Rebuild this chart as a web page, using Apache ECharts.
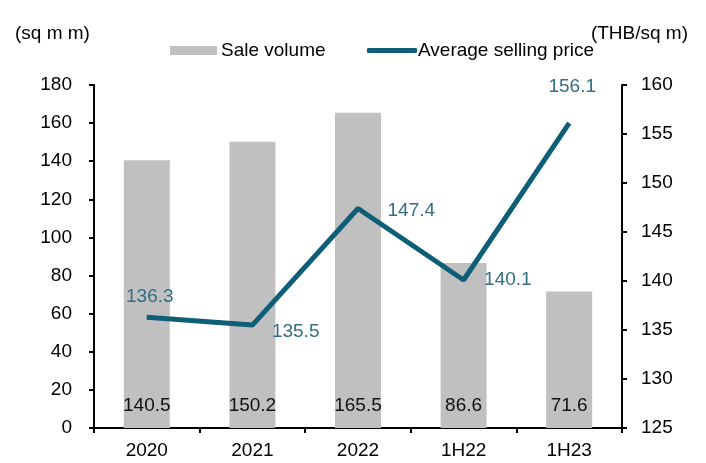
<!DOCTYPE html>
<html>
<head>
<meta charset="utf-8">
<script src="https://cdn.jsdelivr.net/npm/echarts@6/dist/echarts.min.js"></script>
<style>
  html, body { margin: 0; padding: 0; background: #fff; }
  #chart { width: 706px; height: 463px; }
</style>
</head>
<body>
<div id="chart"></div>
<script>
const categories = ['2020', '2021', '2022', '1H22', '1H23']
const saleVolume = [140.5, 150.2, 165.5, 86.6, 71.6]
const avgPrice = [136.3, 135.5, 147.4, 140.1, 156.1]

const FONT = '"Liberation Sans", Arial, sans-serif'
const FS = 19
const LINE_COLOR = '#0e5e78'
const LABEL_TEAL = '#336e82'

// label placement per point of the price line
const priceLabelPos = [
  { position: 'top', distance: 10, offset: [3, 0] },
  { position: 'right', distance: 19, offset: [0, 7] },
  { position: 'right', distance: 29, offset: [0, 2] },
  { position: 'right', distance: 20, offset: [0, 0] },
  { position: 'top', distance: 26, offset: [3, 0] }
]

const chart = echarts.init(document.getElementById('chart'))

const option = {
  backgroundColor: '#ffffff',
  textStyle: { fontFamily: FONT },
  animation: false,
  title: [
    {
      text: '(sq m m)',
      left: 10,
      top: 19,
      textStyle: { fontFamily: FONT, fontSize: FS, fontWeight: 'normal', color: '#000' }
    },
    {
      text: '(THB/sq m)',
      right: 13,
      top: 19,
      textStyle: { fontFamily: FONT, fontSize: FS, fontWeight: 'normal', color: '#000' }
    }
  ],
  legend: [
    {
      data: [{ name: 'Sale volume', icon: 'rect' }],
      left: 165,
      top: 36,
      itemWidth: 47,
      itemHeight: 9,
      itemGap: 0,
      textStyle: { fontFamily: FONT, fontSize: FS, color: '#000', padding: [0, 0, 0, -1] }
    },
    {
      data: [{ name: 'Average selling price', icon: 'roundRect' }],
      left: 362,
      top: 36,
      itemWidth: 50,
      itemHeight: 5,
      itemGap: 0,
      itemStyle: { color: LINE_COLOR },
      textStyle: { fontFamily: FONT, fontSize: FS, color: '#000', padding: [0, 0, 0, -4] }
    }
  ],
  grid: {
    left: 94,
    right: 84,
    top: 85,
    bottom: 35
  },
  xAxis: {
    type: 'category',
    data: categories,
    axisLine: { lineStyle: { color: '#000', width: 2 } },
    axisTick: { show: true, length: 5, lineStyle: { color: '#000', width: 2 } },
    axisLabel: { margin: 13, fontFamily: FONT, fontSize: FS, color: '#000' }
  },
  yAxis: [
    {
      type: 'value',
      min: 0,
      max: 180,
      interval: 20,
      axisLine: { show: true, lineStyle: { color: '#000', width: 2 } },
      axisTick: { show: true, length: 5, lineStyle: { color: '#000', width: 2 } },
      axisLabel: { margin: 22, fontFamily: FONT, fontSize: FS, color: '#000' },
      splitLine: { show: false }
    },
    {
      type: 'value',
      min: 125,
      max: 160,
      interval: 5,
      position: 'right',
      axisLine: { show: true, lineStyle: { color: '#000', width: 2 } },
      axisTick: { show: true, length: 5, lineStyle: { color: '#000', width: 2 } },
      axisLabel: { margin: 19, fontFamily: FONT, fontSize: FS, color: '#000' },
      splitLine: { show: false }
    }
  ],
  series: [
    {
      name: 'Sale volume',
      type: 'bar',
      data: saleVolume,
      barWidth: 46,
      itemStyle: { color: '#c0c0c0' },
      label: {
        show: true,
        position: 'insideBottom',
        distance: 13,
        fontFamily: FONT,
        fontSize: FS,
        color: '#111'
      }
    },
    {
      name: 'Average selling price',
      type: 'line',
      yAxisIndex: 1,
      data: avgPrice.map((v, i) => ({
        value: v,
        label: priceLabelPos[i]
      })),
      symbol: 'circle',
      symbolSize: 1,
      showSymbol: true,
      lineStyle: { color: LINE_COLOR, width: 5 },
      itemStyle: { color: LINE_COLOR },
      label: {
        show: true,
        fontFamily: FONT,
        fontSize: FS,
        color: LABEL_TEAL
      },
      z: 5
    }
  ]
}

chart.setOption(option)
</script>
</body>
</html>
